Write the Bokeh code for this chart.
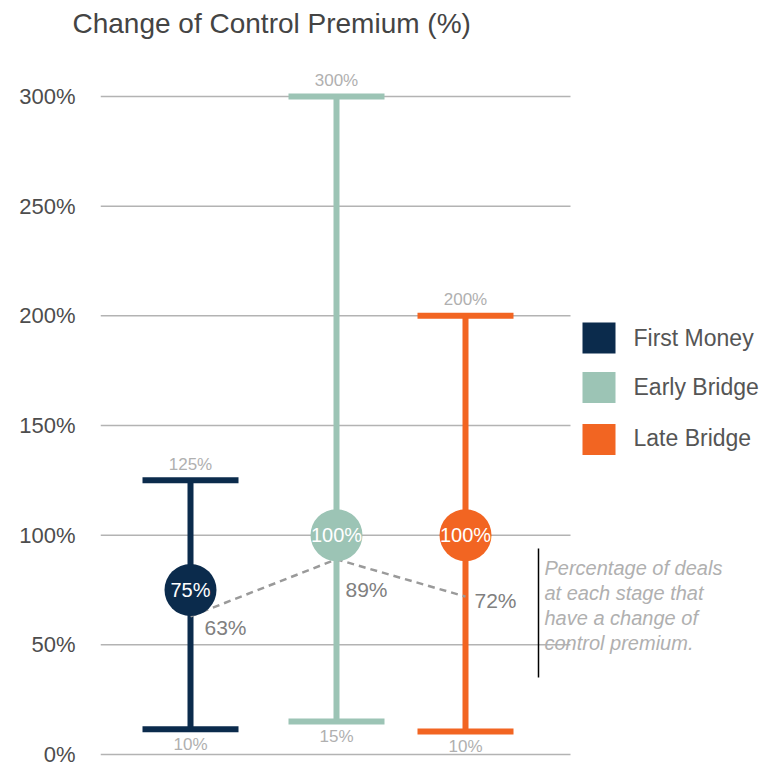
from bokeh.plotting import figure
from bokeh.models import Range1d, ColumnDataSource, FixedTicker
from bokeh.embed import file_html
from bokeh.resources import INLINE
from bokeh.core.properties import value

# ---------------- data ----------------
categories = ["First Money", "Early Bridge", "Late Bridge"]
highs = [125, 300, 200]
lows = [11.5, 15, 10.5]
high_labels = ["125%", "300%", "200%"]
low_labels = ["10%", "15%", "10%"]
medians = [75, 100, 100]
median_labels = ["75%", "100%", "100%"]
deal_pcts = [63, 89, 72]
deal_labels = ["63%", "89%", "72%"]
colors = ["#0b2b4c", "#9cc4b5", "#f26522"]
y_ticks = [0, 50, 100, 150, 200, 250, 300]
y_tick_labels = ["0%", "50%", "100%", "150%", "200%", "250%", "300%"]
title_text = "Change of Control Premium (%)"
note_lines = ["Percentage of deals", "at each stage that",
              "have a change of", "control premium."]

# ---------------- layout ----------------
FONT = "Liberation Sans"
W, H = 764, 768
PAGE_X0 = 100            # x of frame left
Y0_PX = 754.0            # y of 0%
K = (754.0 - 96.0) / 300.0
FRAME_TOP_PAGE = 43.0
FRAME_BOTTOM_PAGE = float(H)


def val(py):
    return (Y0_PX - py) / K


xs = [90, 236, 365]
cap_half = 48
grid_end = 470

p = figure(width=W, height=H, output_backend="svg", toolbar_location=None,
           x_range=Range1d(0, W - PAGE_X0),
           y_range=Range1d(val(FRAME_BOTTOM_PAGE), val(FRAME_TOP_PAGE)),
           x_axis_location=None,
           min_border_left=PAGE_X0, min_border_right=0,
           min_border_bottom=0, min_border_top=0)
p.outline_line_color = None
p.xgrid.visible = False
p.ygrid.visible = False
p.background_fill_color = "white"
p.border_fill_color = "white"

p.title.text = title_text
p.title.text_font = FONT
p.title.text_font_size = "28px"
p.title.text_font_style = "normal"
p.title.text_color = "#444444"
p.title.align = "left"
p.title.offset = -28

ax = p.yaxis[0]
ax.ticker = FixedTicker(ticks=y_ticks)
ax.major_label_overrides = {t: l for t, l in zip(y_ticks, y_tick_labels)}
ax.axis_line_color = None
ax.major_tick_line_color = None
ax.minor_tick_line_color = None
ax.major_tick_out = 0
ax.major_label_standoff = 25
ax.major_label_text_font = FONT
ax.major_label_text_font_size = "22px"
ax.major_label_text_color = "#4d4d4d"

# gridlines
p.segment(x0=[0] * len(y_ticks), x1=[grid_end] * len(y_ticks),
          y0=y_ticks, y1=y_ticks, line_color="#b3b3b3", line_width=1.5)

src = ColumnDataSource(dict(
    x=xs, xl=[x - cap_half for x in xs], xr=[x + cap_half for x in xs],
    hi=highs, lo=lows, med=medians, pct=deal_pcts, color=colors,
    hl=high_labels, ll=low_labels, ml=median_labels, dl=deal_labels,
    cat=categories,
))

# error bars
p.segment(x0="x", x1="x", y0="lo", y1="hi", line_color="color",
          line_width=6, source=src)
p.segment(x0="xl", x1="xr", y0="hi", y1="hi", line_color="color",
          line_width=6, line_cap="butt", source=src)
p.segment(x0="xl", x1="xr", y0="lo", y1="lo", line_color="color",
          line_width=6, line_cap="butt", source=src)

# high / low labels
p.text(x="x", y="hi", text="hl", source=src, text_align="center",
       text_baseline="middle", y_offset=-16, text_font=value(FONT),
       text_font_size="17px", text_color="#b0b0b0")
p.text(x="x", y="lo", text="ll", source=src, text_align="center",
       text_baseline="middle", y_offset=15, text_font=value(FONT),
       text_font_size="17px", text_color="#b0b0b0")

# dashed line of deal percentages
p.line(x="x", y="pct", source=src, line_color="#9a9a9a", line_width=2.5,
       line_dash="7 5")

# median circles
p.scatter(x="x", y="med", size=52, fill_color="color", line_color=None,
          source=src)
p.text(x="x", y="med", text="ml", source=src, text_align="center",
       text_baseline="middle", text_font=value(FONT), text_font_size="20px",
       text_color="white")

# deal percentage labels
src_d = ColumnDataSource(dict(x=xs, pct=deal_pcts, dl=deal_labels,
                              xo=[14, 9, 9], yo=[11, 30, 4]))
p.text(x="x", y="pct", text="dl", source=src_d, x_offset="xo", y_offset="yo",
       text_align="left", text_baseline="middle", text_font=value(FONT),
       text_font_size="21px", text_color="#808080")

# legend
leg_src = ColumnDataSource(dict(
    x=[498.5] * 3, y=[val(337.5), val(387), val(439)],
    tx=[533] * 3, ty=[val(337), val(386), val(437)],
    color=colors, cat=categories))
p.rect(x="x", y="y", width=33, height=31, width_units="screen",
       height_units="screen", fill_color="color", line_color=None,
       source=leg_src)
p.text(x="tx", y="ty", text="cat", source=leg_src, text_align="left",
       text_baseline="middle", text_font=value(FONT), text_font_size="23px",
       text_color="#555555")

# note
p.segment(x0=[438], x1=[438], y0=[val(548)], y1=[val(677)],
          line_color="black", line_width=1.5)
p.text(x=[444] * 4, y=[val(567 + 25.3 * i) for i in range(4)], text=note_lines,
       text_align="left", text_baseline="middle", text_font=value(FONT),
       text_font_size="20px", text_font_style="italic", text_color="#b0b0b0")

open("out.html", "w").write(file_html(p, INLINE))
